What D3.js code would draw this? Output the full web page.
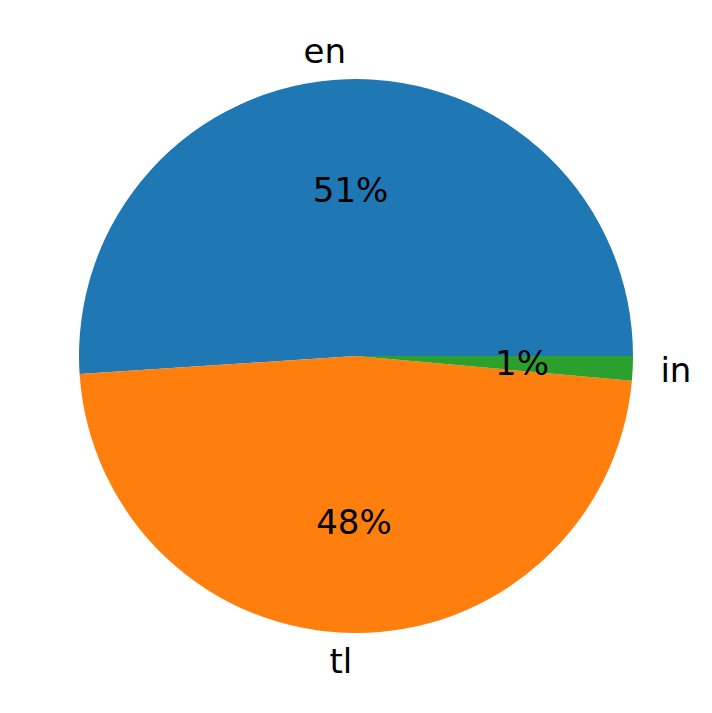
<!DOCTYPE html>
<html>
<head>
<meta charset="utf-8">
<script src="https://cdn.jsdelivr.net/npm/d3@7"></script>
<style>
  html, body { margin: 0; padding: 0; background: #ffffff; }
  svg { display: block; }
  text { font-family: "DejaVu Sans", sans-serif; }
</style>
</head>
<body>
<script>
const categories = ["en", "tl", "in"];
const values = [51.04, 47.53, 1.43];
const colors = ["#1f77b4", "#ff7f0e", "#2ca02c"];

const W = 712, H = 713;
const cx = 356, cy = 356, R = 277;
const fontSize = 34;

const svg = d3.select("body").append("svg").attr("width", W).attr("height", H);
const g = svg.append("g").attr("transform", `translate(${cx},${cy})`);

const data = categories.map((c, i) => ({ cat: c, value: values[i], color: colors[i] }));
const total = d3.sum(values);

const pie = d3.pie().sort(null).value(d => d.value)
  .startAngle(Math.PI / 2).endAngle(Math.PI / 2 - 2 * Math.PI);
const arcs = pie(data);
const arc = d3.arc().innerRadius(0).outerRadius(R);

g.selectAll("path.slice").data(arcs).enter().append("path")
  .attr("class", "slice")
  .attr("d", arc)
  .attr("fill", d => d.data.color);

const fmt = d3.format(".0f");
function pos(d, f) {
  const a = (d.startAngle + d.endAngle) / 2;
  return [Math.sin(a) * R * f, -Math.cos(a) * R * f];
}

// category labels at 1.1 R
g.selectAll("text.lbl").data(arcs).enter().append("text")
  .attr("class", "lbl")
  .attr("x", d => pos(d, 1.1)[0])
  .attr("y", d => pos(d, 1.1)[1])
  .attr("dy", "0.35em")
  .attr("text-anchor", d => pos(d, 1.1)[0] > 0 ? "start" : "end")
  .attr("font-size", fontSize)
  .attr("fill", "#000")
  .text(d => d.data.cat);

// percentage labels at 0.6 R
g.selectAll("text.pct").data(arcs).enter().append("text")
  .attr("class", "pct")
  .attr("x", d => pos(d, 0.6)[0])
  .attr("y", d => pos(d, 0.6)[1])
  .attr("dy", "0.35em")
  .attr("text-anchor", "middle")
  .attr("font-size", fontSize)
  .attr("fill", "#000")
  .text(d => fmt(d.data.value / total * 100) + "%");
</script>
</body>
</html>
